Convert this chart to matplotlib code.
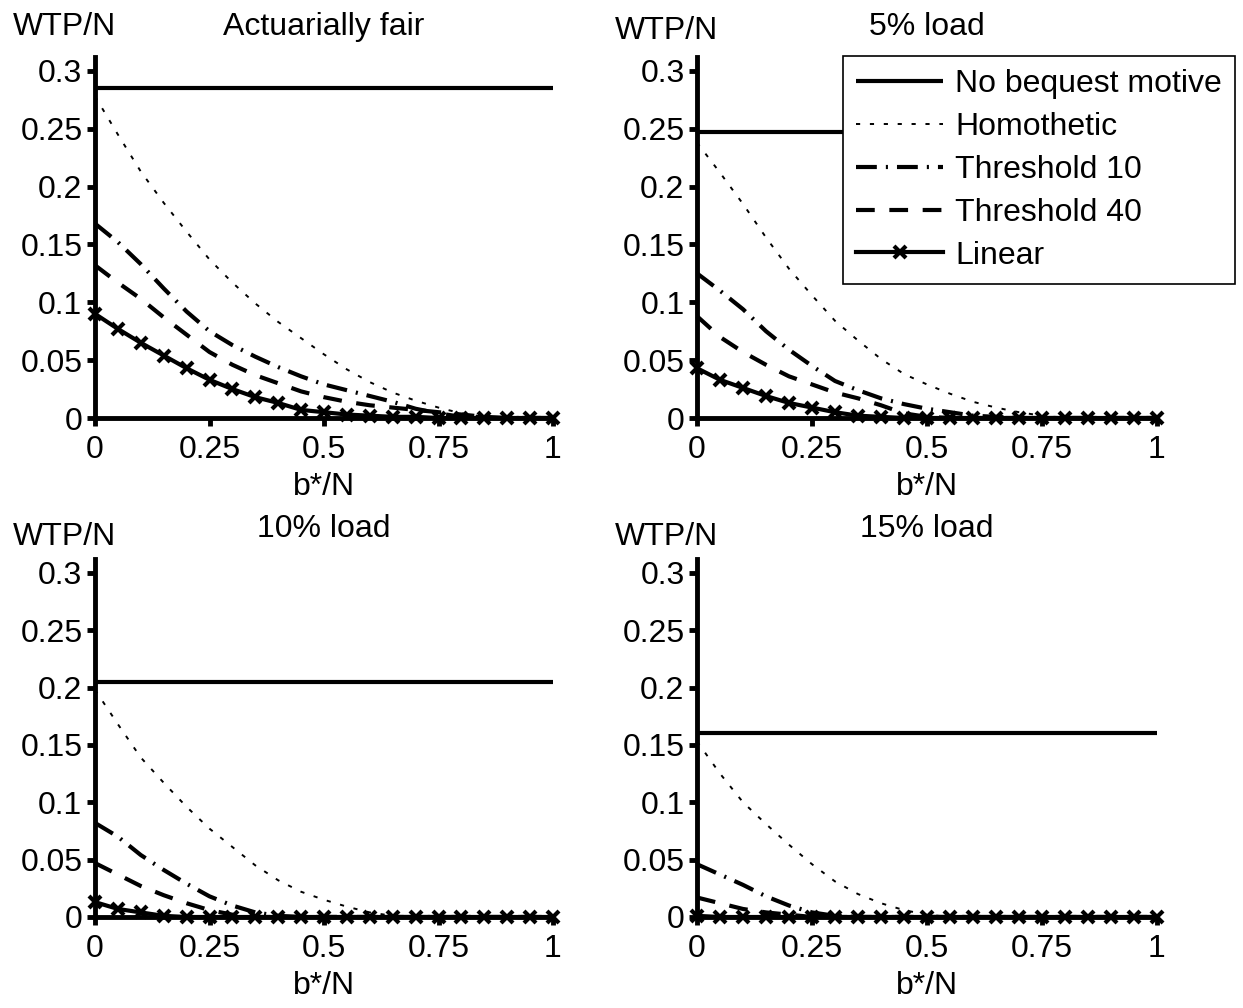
import matplotlib
matplotlib.use("Agg")
import matplotlib.pyplot as plt

plt.rcParams['font.family'] = ['Liberation Sans', 'DejaVu Sans']
plt.rcParams['lines.scale_dashes'] = False

# ---- data ----
x = [0.0, 0.05, 0.1, 0.15, 0.2, 0.25, 0.3, 0.35, 0.4, 0.45, 0.5,
     0.55, 0.6, 0.65, 0.7, 0.75, 0.8, 0.85, 0.9, 0.95, 1.0]

titles = ["Actuarially fair", "5% load", "10% load", "15% load"]
series_names = ["No bequest motive", "Homothetic", "Threshold 10", "Threshold 40", "Linear"]

no_bequest = [0.285, 0.247, 0.205, 0.160]

homothetic_fair = [0.278, 0.245, 0.213, 0.186, 0.161, 0.137, 0.117, 0.099, 0.083, 0.069, 0.055,
                   0.042, 0.031, 0.022, 0.015, 0.009, 0.004, 0.001, 0, 0, 0]
t10_fair = [0.168, 0.152, 0.133, 0.112, 0.092, 0.075, 0.063, 0.053, 0.044, 0.036, 0.029,
            0.024, 0.019, 0.014, 0.008, 0.004, 0.001, 0, 0, 0, 0]
t40_fair = [0.132, 0.117, 0.103, 0.087, 0.072, 0.057, 0.046, 0.037, 0.030, 0.023, 0.018,
            0.014, 0.011, 0.009, 0.007, 0.005, 0.003, 0.001, 0, 0, 0]
lin_fair = [0.090, 0.077, 0.065, 0.054, 0.043, 0.033, 0.025, 0.018, 0.013, 0.007, 0.005,
            0.003, 0.002, 0.001, 0.001, 0, 0, 0, 0, 0, 0]

homothetic_5 = [0.238, 0.212, 0.185, 0.156, 0.129, 0.106, 0.084, 0.067, 0.051, 0.038, 0.029,
                0.021, 0.014, 0.009, 0.005, 0.002, 0, 0, 0, 0, 0]
t10_5 = [0.125, 0.110, 0.094, 0.075, 0.059, 0.045, 0.032, 0.024, 0.017, 0.012, 0.008,
         0.005, 0.002, 0.001, 0, 0, 0, 0, 0, 0, 0]
t40_5 = [0.088, 0.070, 0.057, 0.046, 0.036, 0.029, 0.022, 0.017, 0.011, 0.004, 0.001,
         0, 0, 0, 0, 0, 0, 0, 0, 0, 0]
lin_5 = [0.043, 0.033, 0.026, 0.019, 0.013, 0.009, 0.005, 0.002, 0.001, 0, 0,
         0, 0, 0, 0, 0, 0, 0, 0, 0, 0]

homothetic_10 = [0.198, 0.168, 0.139, 0.117, 0.096, 0.077, 0.061, 0.045, 0.032, 0.022, 0.015,
                 0.009, 0.004, 0.001, 0, 0, 0, 0, 0, 0, 0]
t10_10 = [0.082, 0.070, 0.054, 0.041, 0.029, 0.018, 0.010, 0.004, 0.001, 0, 0,
          0, 0, 0, 0, 0, 0, 0, 0, 0, 0]
t40_10 = [0.047, 0.037, 0.027, 0.019, 0.012, 0.006, 0.002, 0, 0, 0, 0,
          0, 0, 0, 0, 0, 0, 0, 0, 0, 0]
lin_10 = [0.013, 0.007, 0.004, 0.001, 0, 0, 0, 0, 0, 0, 0,
          0, 0, 0, 0, 0, 0, 0, 0, 0, 0]

homothetic_15 = [0.153, 0.125, 0.100, 0.081, 0.063, 0.046, 0.031, 0.020, 0.012, 0.006, 0.002,
                 0, 0, 0, 0, 0, 0, 0, 0, 0, 0]
t10_15 = [0.046, 0.037, 0.028, 0.018, 0.010, 0.004, 0.001, 0, 0, 0, 0,
          0, 0, 0, 0, 0, 0, 0, 0, 0, 0]
t40_15 = [0.017, 0.012, 0.007, 0.004, 0.002, 0, 0, 0, 0, 0, 0,
          0, 0, 0, 0, 0, 0, 0, 0, 0, 0]
lin_15 = [0.001, 0, 0, 0, 0, 0, 0, 0, 0, 0, 0,
          0, 0, 0, 0, 0, 0, 0, 0, 0, 0]

homothetic = [homothetic_fair, homothetic_5, homothetic_10, homothetic_15]
threshold10 = [t10_fair, t10_5, t10_10, t10_15]
threshold40 = [t40_fair, t40_5, t40_10, t40_15]
linear = [lin_fair, lin_5, lin_10, lin_15]

yticks = [0, 0.05, 0.1, 0.15, 0.2, 0.25, 0.3]
ytick_labels = ["0", "0.05", "0.1", "0.15", "0.2", "0.25", "0.3"]
xticks = [0, 0.25, 0.5, 0.75, 1]
xtick_labels = ["0", "0.25", "0.5", "0.75", "1"]

# ---- figure ----
W, H = 1243, 1008
fig = plt.figure(figsize=(W / 100, H / 100), dpi=100)
FS = 23

# axes rectangles in pixels: (left, top, right, bottom)
rects = [(95, 57, 553, 418), (697, 57, 1157, 418),
         (95, 559, 553, 917), (697, 559, 1157, 917)]
wtp_offsets = [22, 18, 14, 14]

lw = 3.0
for i, (l, t, r, b) in enumerate(rects):
    ax = fig.add_axes([l / W, 1 - b / H, (r - l) / W, (b - t) / H])
    n = len(x)
    h1, = ax.plot(x, [no_bequest[i]] * n, color='black', lw=lw, solid_capstyle='butt',
                  clip_on=False, label=series_names[0])
    h2, = ax.plot(x, homothetic[i], color='black', lw=1.4,
                  linestyle=(0, (3, 7)), clip_on=False, label=series_names[1])
    h3, = ax.plot(x, threshold10[i], color='black', lw=lw,
                  linestyle=(0, (15, 6.5, 1.5, 6.5)), clip_on=False, label=series_names[2])
    h4, = ax.plot(x, threshold40[i], color='black', lw=lw,
                  linestyle=(0, (13.5, 10.5)), clip_on=False, label=series_names[3])
    h5, = ax.plot(x, linear[i], color='black', lw=lw, marker='x', markersize=8,
                  markeredgewidth=3, clip_on=False, label=series_names[4])

    ax.set_xlim(0, 1)
    ax.set_ylim(0, 0.312)
    ax.set_xticks(xticks)
    ax.set_xticklabels(xtick_labels)
    ax.set_yticks(yticks)
    ax.set_yticklabels(ytick_labels)
    for s in ['top', 'right']:
        ax.spines[s].set_visible(False)
    for s in ['left', 'bottom']:
        ax.spines[s].set_linewidth(3.5)
        ax.spines[s].set_zorder(1)
    ax.tick_params(axis='both', direction='out', length=5.5, width=3.5, labelsize=FS)
    ax.tick_params(axis='x', pad=7)
    ax.tick_params(axis='y', pad=3.5)
    ax.set_xlabel("b*/N", fontsize=FS, labelpad=4.5)
    ax.set_title(titles[i], fontsize=FS, pad=16)
    ax.annotate("WTP/N", xy=(0, 1), xycoords='axes fraction',
                xytext=(-31 * 0.72, wtp_offsets[i] * 0.72), textcoords='offset points',
                ha='center', va='baseline', fontsize=FS)

    if i == 1:
        leg = ax.legend(handles=[h1, h2, h3, h4, h5], loc='upper left',
                        bbox_to_anchor=(843 / W, 1 - 56 / H), bbox_transform=fig.transFigure,
                        borderaxespad=0, fontsize=FS, frameon=True, fancybox=False,
                        edgecolor='black', framealpha=1, handlelength=2.72,
                        handletextpad=0.375, labelspacing=0.4, borderpad=0.42, numpoints=1)
        leg.get_frame().set_linewidth(1.2)

fig.savefig("out.png", dpi=100)
